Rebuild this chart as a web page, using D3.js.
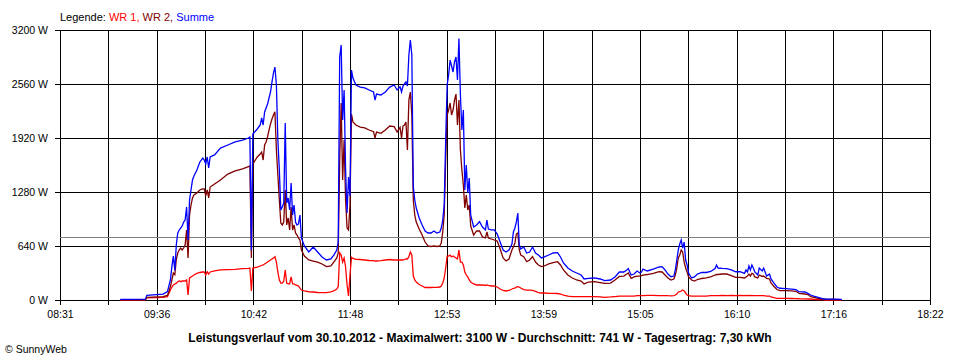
<!DOCTYPE html>
<html><head><meta charset="utf-8">
<script src="https://cdn.jsdelivr.net/npm/d3@7"></script>
<style>
body{margin:0;background:#fff}
svg text{font-family:"Liberation Sans",Arial,sans-serif}
</style>
</head><body><svg id="c" width="960" height="360"></svg>
<script>
// ---- data ----
const times = ["09:12","09:29","09:30","09:41","09:44","09:46","09:47","09:48","09:49","09:50","09:51","09:52","09:53","09:54","09:55","09:56","09:57","09:58","09:59","10:00","10:01","10:02","10:04","10:06","10:08","10:09","10:10","10:11","10:12","10:13","10:16","10:20","10:25","10:30","10:35","10:39","10:40","10:41","10:42","10:45","10:47","10:48","10:49","10:50","10:51","10:52","10:53","10:54","10:55","10:56","10:57","10:58","10:59","11:00","11:01","11:02","11:03","11:04","11:05","11:06","11:07","11:08","11:09","11:10","11:11","11:12","11:13","11:14","11:15","11:17","11:20","11:23","11:26","11:29","11:32","11:35","11:37","11:39","11:40","11:41","11:42","11:43","11:44","11:45","11:46","11:47","11:48","11:49","11:50","11:52","11:55","11:58","12:01","12:04","12:05","12:06","12:09","12:12","12:15","12:18","12:20","12:22","12:23","12:24","12:25","12:26","12:27","12:28","12:29","12:30","12:31","12:32","12:33","12:35","12:37","12:39","12:41","12:43","12:45","12:47","12:49","12:50","12:51","12:52","12:53","12:54","12:55","12:56","12:57","12:58","12:59","13:00","13:01","13:02","13:03","13:04","13:05","13:06","13:07","13:08","13:09","13:10","13:12","13:14","13:16","13:18","13:20","13:21","13:22","13:24","13:26","13:28","13:30","13:32","13:34","13:36","13:38","13:39","13:40","13:41","13:42","13:43","13:44","13:46","13:48","13:50","13:52","13:54","13:56","13:58","14:00","14:03","14:06","14:09","14:11","14:13","14:16","14:19","14:22","14:25","14:27","14:30","14:34","14:38","14:41","14:45","14:48","14:51","14:54","14:56","14:57","14:59","15:01","15:03","15:05","15:06","15:07","15:10","15:14","15:18","15:20","15:22","15:24","15:26","15:28","15:29","15:30","15:31","15:32","15:33","15:34","15:35","15:36","15:37","15:38","15:40","15:42","15:44","15:47","15:50","15:53","15:56","15:57","15:58","16:01","16:04","16:07","16:10","16:13","16:16","16:17","16:18","16:19","16:20","16:21","16:22","16:23","16:25","16:26","16:28","16:29","16:31","16:33","16:34","16:36","16:38","16:40","16:44","16:48","16:51","16:53","16:57","16:59","17:01","17:03","17:06","17:09","17:11","17:16","17:22"];
const summe = [8,10,55,70,100,237,395,520,350,652,794,830,853,877,924,948,1102,711,1185,1304,1422,1470,1541,1636,1683,1659,1612,1695,1564,1695,1719,1801,1837,1873,1896,1920,1932,593,1967,2027,2074,2157,2074,2228,2276,2323,2394,2465,2584,2690,2761,2548,1896,1541,1067,1102,1150,2098,1150,1209,1067,1387,1007,1126,924,889,901,1007,735,640,569,628,569,510,474,486,533,593,687,2880,3022,2133,2489,1541,1031,1458,1233,2726,2631,2548,2524,2513,2489,2465,2370,2441,2430,2465,2524,2548,2489,2528,2465,2536,2560,2584,2536,2904,3081,2904,1343,1185,1090,972,889,818,794,794,818,794,806,853,948,1126,1896,2548,2667,2844,2773,2702,2821,2880,2607,3100,2430,2015,2252,1304,1600,1268,1446,1007,865,889,928,865,830,948,841,830,830,782,687,593,569,593,664,806,853,924,1031,652,604,628,557,569,628,557,533,498,510,533,557,561,510,439,379,344,320,296,249,257,261,249,229,237,273,332,332,356,373,296,308,344,320,330,367,344,367,391,395,356,308,276,284,356,474,593,664,711,616,687,474,415,320,261,273,308,326,326,338,373,415,379,375,373,356,335,335,316,356,332,403,356,415,379,332,296,379,344,379,284,308,249,201,154,139,134,130,124,98,95,79,59,47,32,15,12,10,8];
const wr2 = [5,6,30,40,55,158,237,320,300,480,557,593,616,593,616,652,830,498,1007,1126,1209,1244,1268,1304,1316,1316,1233,1304,1209,1339,1375,1422,1493,1529,1553,1580,1588,498,1612,1695,1730,1754,1659,1837,1873,1932,2015,2086,2145,2193,2232,1778,1481,1185,913,889,924,1304,889,972,830,1102,830,889,794,770,735,711,593,521,474,462,450,427,395,403,450,498,557,1659,2335,1422,1896,1185,853,830,1126,2204,2110,2074,2050,2039,2015,1995,1920,1991,1976,2015,2062,2054,1991,2047,1920,2062,2074,2110,1778,2370,2465,2193,1185,1007,924,841,770,687,640,634,640,634,640,676,806,1007,1659,2193,2252,2335,2193,2252,2370,2441,2074,2370,1778,1541,1363,1090,1244,1067,1126,877,770,818,818,747,735,806,735,723,711,699,604,498,462,486,593,628,676,782,794,593,533,513,454,474,513,450,415,395,403,427,442,454,415,356,296,261,237,225,190,213,217,207,198,201,237,279,284,308,320,257,273,284,284,290,296,302,316,335,332,296,261,237,249,296,379,498,533,593,569,450,379,332,273,237,225,243,255,261,273,296,302,302,308,308,290,269,269,261,273,284,308,284,316,308,273,261,296,279,284,257,249,201,160,124,110,110,107,103,79,71,65,39,30,20,12,8,6,5];
const wr1 = [0,2,25,30,40,118,154,178,190,200,217,225,217,225,225,225,237,59,261,273,284,296,316,326,332,332,296,335,308,332,344,356,361,364,371,376,379,107,379,391,403,409,415,427,438,450,462,474,486,498,513,450,332,237,201,201,225,356,201,190,190,273,190,190,178,172,166,142,118,107,98,95,89,87,87,95,107,130,158,557,533,450,498,391,178,47,296,506,492,482,480,474,468,466,462,462,466,474,480,474,474,474,474,474,480,486,486,513,569,533,284,237,213,184,166,148,148,148,150,150,154,166,201,261,379,521,521,533,510,521,510,498,486,593,450,450,415,332,296,273,237,213,190,178,178,178,172,178,172,166,166,154,130,113,107,113,130,139,142,154,158,154,142,124,118,118,113,101,87,83,83,79,79,77,71,59,47,41,39,39,39,39,39,36,32,36,41,47,47,47,47,47,47,51,53,53,53,55,55,53,53,53,51,50,53,59,71,95,98,107,118,107,83,59,53,47,47,47,47,47,51,53,53,53,55,53,55,53,55,53,55,53,55,53,55,53,53,53,53,51,51,47,47,36,27,20,20,19,18,17,15,14,12,12,8,6,4,0,0,0];
const xTickLabels = ["08:31","09:36","10:42","11:48","12:53","13:59","15:05","16:10","17:16","18:22"];
const yTickValues = [0,640,1280,1920,2560,3200];
const averageW = 741;
const legendItems = [["Legende: ","#000"],["WR 1, ","#ff0000"],["WR 2, ","#800000"],["Summe","#0000ff"]];
const titleText = "Leistungsverlauf vom 30.10.2012 - Maximalwert: 3100 W - Durchschnitt: 741 W - Tagesertrag: 7,30 kWh";
const creditText = "\u00A9 SunnyWeb";

// ---- drawing ----
const L = 60, R = 930, T = 30, B = 300;
const toMin = s => { const [h, m] = s.split(":").map(Number); return h * 60 + m; };
const t0 = toMin(xTickLabels[0]), t1 = toMin(xTickLabels[xTickLabels.length - 1]);
const x = d3.scaleLinear().domain([t0, t1]).range([L, R]);
const y = d3.scaleLinear().domain([0, 3200]).range([B, T]);
const svg = d3.select("#c");
svg.append("rect").attr("width", 960).attr("height", 360).attr("fill", "#fff");

const gridVals = d3.range(19).map(i => t0 + i * (t1 - t0) / 18);

// horizontal grid
svg.append("g").selectAll("line").data(yTickValues).join("line")
  .attr("x1", L - 5).attr("x2", R).attr("y1", d => Math.round(y(d)) + 0.5).attr("y2", d => Math.round(y(d)) + 0.5)
  .attr("stroke", "#000").attr("stroke-width", 1);
// vertical grid
svg.append("g").selectAll("line").data(gridVals).join("line")
  .attr("x1", d => Math.round(x(d)) + 0.5).attr("x2", d => Math.round(x(d)) + 0.5)
  .attr("y1", T).attr("y2", B + 5)
  .attr("stroke", "#000").attr("stroke-width", 1);

// average line
svg.append("line").attr("x1", L).attr("x2", R)
  .attr("y1", Math.round(y(averageW)) + 0.5).attr("y2", Math.round(y(averageW)) + 0.5)
  .attr("stroke", "#808080").attr("stroke-width", 1);

// axes labels
const xAxis = d3.axisBottom(x).tickValues(gridVals).tickSize(0).tickPadding(11)
  .tickFormat((d, i) => i % 2 === 0 ? xTickLabels[i / 2] : "");
const gx = svg.append("g").attr("transform", `translate(0,${B})`).call(xAxis);
gx.select(".domain").remove();
gx.selectAll("text").attr("font-size", 10.5).attr("fill", "#000").attr("font-family", "Liberation Sans, Arial, sans-serif");

const yAxis = d3.axisLeft(y).tickValues(yTickValues).tickSize(0).tickPadding(12).tickFormat(d => d + " W");
const gy = svg.append("g").attr("transform", `translate(${L},0)`).call(yAxis);
gy.select(".domain").remove();
gy.selectAll("text").attr("font-size", 10.5).attr("fill", "#000").attr("font-family", "Liberation Sans, Arial, sans-serif");

// series
const tm = times.map(toMin);
const line = vals => d3.line().x((d, i) => x(tm[i])).y(d => y(d))(vals);
[[wr1, "#ff0000"], [wr2, "#800000"], [summe, "#0000ff"]].forEach(([vals, col]) => {
  svg.append("path").attr("d", line(vals)).attr("fill", "none")
    .attr("stroke", col).attr("stroke-width", 1.3).attr("stroke-linejoin", "miter");
});

// legend
const lg = svg.append("text").attr("x", L).attr("y", 21).attr("font-size", 11);
legendItems.forEach(([t, c]) => lg.append("tspan").attr("fill", c).text(t));

// title
svg.append("text").attr("x", 480).attr("y", 342).attr("text-anchor", "middle")
  .attr("font-size", 12).attr("font-weight", "bold").text(titleText);
svg.append("text").attr("x", 5).attr("y", 353).attr("font-size", 10.5).text(creditText);
</script></body></html>
